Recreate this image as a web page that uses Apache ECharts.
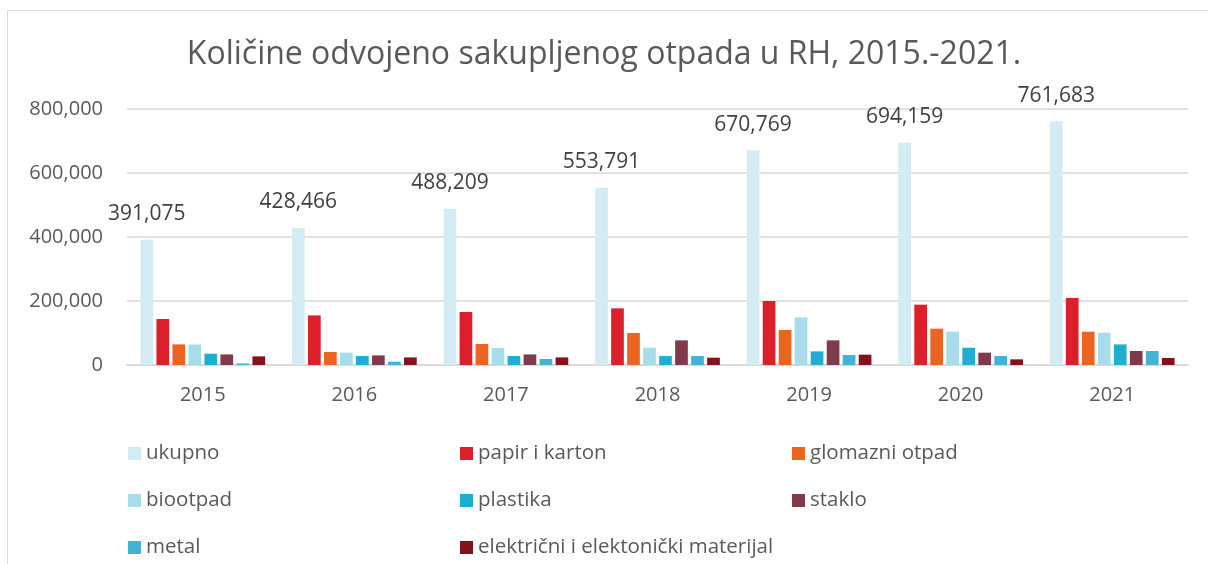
<!DOCTYPE html>
<html>
<head>
<meta charset="utf-8">
<script src="https://cdn.jsdelivr.net/npm/echarts@6/dist/echarts.min.js"></script>
<style>html,body{margin:0;padding:0;background:#fff;}#c{width:1208px;height:564px;}</style>
</head>
<body>
<div id="c"></div>
<script>
const titleText = 'Količine odvojeno sakupljenog otpada u RH, 2015.-2021.';
const categories = ['2015', '2016', '2017', '2018', '2019', '2020', '2021'];
const seriesNames = ['ukupno', 'papir i karton', 'glomazni otpad', 'biootpad', 'plastika', 'staklo', 'metal', 'električni i elektonički materijal'];
const ukupno   = [391075, 428466, 488209, 553791, 670769, 694159, 761683];
const papir    = [143700, 155000, 165600, 177000, 200000, 188500, 209400];
const glomazni = [64400, 40600, 65600, 100000, 109400, 113500, 104000];
const biootpad = [64000, 38500, 53000, 54000, 148700, 104000, 101000];
const plastika = [35300, 28000, 28000, 28000, 42600, 54000, 64400];
const staklo   = [33000, 30000, 33000, 77000, 77000, 38500, 43700];
const metal    = [5000, 10300, 18700, 28000, 31200, 28000, 43700];
const elektr   = [27000, 23700, 23700, 22900, 32300, 17700, 21900];
const yTicks = [0, 200000, 400000, 600000, 800000];
const colors = ['#D3ECF4', '#DC1F2B', '#EB6420', '#A8DCEA', '#1FAECF', '#7F3A4B', '#41B4D6', '#84121A'];
const allData = [ukupno, papir, glomazni, biootpad, plastika, staklo, metal, elektr];

const FONT = 'Open Sans';
const fmt = v => Number(v).toLocaleString('en-US');

const series = seriesNames.map((name, i) => ({
  name: name,
  type: 'bar',
  data: allData[i],
  barWidth: 12.7,
  barGap: '26%',
  itemStyle: { color: colors[i] },
  emphasis: { disabled: true },
  label: i === 0 ? {
    show: true, position: 'top', distance: 15,
    formatter: p => fmt(p.value),
    fontFamily: FONT, fontSize: 21, color: '#404040'
  } : { show: false }
}));

const legendCommon = {
  orient: 'vertical', itemWidth: 13, itemHeight: 13, itemGap: 26,
  icon: 'rect', top: 438,
  textStyle: { fontFamily: FONT, fontSize: 20.5, color: '#595959', lineHeight: 20.5 },
  selectedMode: false
};

const chart = echarts.init(document.getElementById('c'), null, { renderer: 'canvas' });
chart.setOption({
  animation: false,
  backgroundColor: '#fff',
  graphic: [{
    type: 'rect', shape: { x: 7.5, y: 10.5, width: 1400, height: 800 },
    style: { fill: 'none', stroke: '#D9D9D9', lineWidth: 1 }, silent: true
  }],
  title: {
    text: titleText, left: 'center', top: 34,
    textStyle: { fontFamily: FONT, fontSize: 32, fontWeight: 'normal', color: '#595959' }
  },
  legend: [
    Object.assign({}, legendCommon, { left: 123, data: [seriesNames[0], seriesNames[3], seriesNames[6]] }),
    Object.assign({}, legendCommon, { left: 455, data: [seriesNames[1], seriesNames[4], seriesNames[7]] }),
    Object.assign({}, legendCommon, { left: 787, data: [seriesNames[2], seriesNames[5]] })
  ],
  grid: { left: 127, right: 20, top: 109, bottom: 199, containLabel: false },
  xAxis: {
    type: 'category', data: categories,
    axisLine: { show: true, lineStyle: { color: '#D9D9D9', width: 2 } },
    axisTick: { show: false },
    axisLabel: { fontFamily: FONT, fontSize: 20, color: '#595959', margin: 20 }
  },
  yAxis: {
    type: 'value', min: yTicks[0], max: yTicks[yTicks.length - 1], interval: yTicks[1] - yTicks[0],
    axisLine: { show: false }, axisTick: { show: false },
    splitLine: { lineStyle: { color: '#D9D9D9', width: 1.5 } },
    axisLabel: { fontFamily: FONT, fontSize: 20, color: '#595959', margin: 24, formatter: v => fmt(v) }
  },
  series: series
});
</script>
</body>
</html>
